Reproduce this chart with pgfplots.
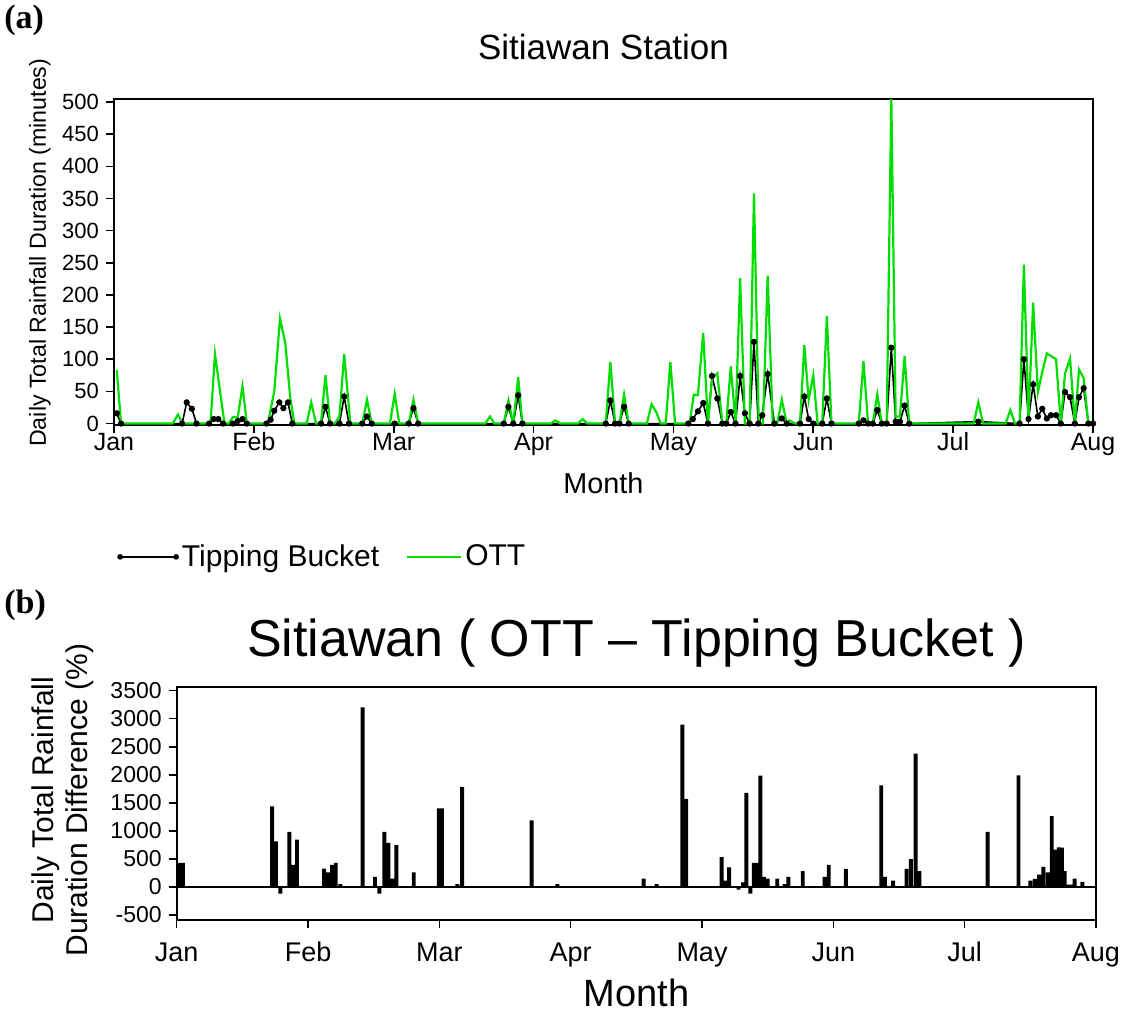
\documentclass[border=0pt]{standalone}
\usepackage{pgfplots}
\pgfplotsset{compat=1.18}
\usepackage{fontspec}
\setmainfont{Liberation Sans}
\newfontfamily\tnr{Liberation Serif}
\definecolor{ottgreen}{RGB}{0,221,0}
\newcommand\fs[2][1.15]{\fontsize{#2}{#1\dimexpr#2\relax}\selectfont}

% daily rainfall duration (minutes); x = month position (0 = 1 Jan, 7 = 1 Aug)
\pgfplotstableread{
x y
0.02 16
0.05 0
0.487 0
0.52 33
0.557 23
0.59 0
0.68 0
0.713 7
0.746 7
0.78 0
0.85 0
0.885 4
0.919 7
0.95 0
1.09 0
1.12 6
1.146 20
1.182 33
1.211 24
1.244 33
1.275 0
1.48 0
1.512 26
1.545 0
1.612 0
1.646 42
1.68 0
1.775 0
1.809 11
1.843 0
2.007 0
2.107 0
2.141 24
2.175 0
2.787 0
2.82 26
2.855 0
2.89 44
2.92 0
3.516 0
3.549 36
3.583 0
3.614 0
3.647 26
3.68 0
4.107 0
4.139 7
4.175 19
4.213 32
4.247 0
4.276 74
4.314 39
4.35 0
4.378 0
4.41 18
4.444 0
4.477 74
4.511 16
4.545 0
4.576 127
4.607 0
4.635 13
4.674 77
4.722 0
4.775 8
4.81 0
4.905 0
4.936 42
4.967 7
5.0 0
5.064 0
5.097 39
5.13 0
5.325 0
5.359 5
5.392 0
5.425 0
5.458 21
5.49 0
5.525 0
5.558 118
5.589 3
5.62 3
5.653 28
5.686 0
6.18 3
6.475 0
6.506 100
6.539 7
6.572 61
6.606 11
6.637 23
6.67 8
6.70 13
6.736 13
6.77 0
6.80 49
6.836 41
6.87 0
6.90 41
6.933 55
6.967 0
7.0 0
}\tbucket

\pgfplotstableread{
x y
0.02 83
0.05 0
0.42 0
0.457 14
0.49 0
0.69 0
0.722 108
0.79 0
0.82 0
0.85 10
0.885 10
0.919 58
0.95 0
1.10 0
1.146 50
1.187 163
1.225 125
1.26 40
1.29 0
1.378 0
1.41 33
1.445 0
1.48 0
1.512 75
1.545 0
1.578 0
1.612 11
1.646 108
1.69 0
1.775 0
1.809 37
1.843 0
1.973 0
2.007 46
2.04 0
2.107 0
2.141 37
2.175 0
2.655 0
2.688 11
2.72 0
2.787 0
2.82 36
2.855 0
2.89 72
2.92 0
3.123 0
3.156 5
3.19 0
3.317 0
3.35 7
3.383 0
3.516 0
3.549 96
3.583 0
3.614 0
3.647 45
3.68 0
3.81 0
3.844 30
3.877 18
3.91 0
3.945 0
3.978 96
4.012 0
4.115 0
4.146 45
4.175 44
4.213 141
4.247 0
4.276 70
4.314 78
4.35 0
4.378 0
4.41 89
4.444 0
4.477 226
4.511 0
4.545 0
4.576 358
4.61 0
4.64 0
4.674 230
4.71 0
4.742 0
4.775 37
4.81 0
4.829 5
4.87 0
4.905 0
4.936 122
4.967 37
5.0 75
5.031 0
5.064 0
5.097 167
5.13 0
5.325 0
5.359 97
5.392 0
5.425 0
5.458 45
5.49 0
5.525 0
5.558 507
5.589 11
5.62 11
5.653 105
5.686 0
6.147 0
6.18 33
6.214 0
6.375 0
6.409 21
6.442 0
6.475 0
6.506 247
6.539 8
6.572 188
6.606 49
6.637 80
6.67 109
6.70 105
6.736 100
6.77 0
6.80 78
6.836 101
6.87 0
6.90 84
6.933 71
6.967 0
7.0 0
}\ott

% daily difference (%), OTT minus tipping bucket
\pgfplotstableread{
x y
0.016 430
0.048 430
0.726 1438
0.756 814
0.789 -119
0.858 980
0.886 392
0.916 844
1.122 327
1.152 261
1.183 392
1.211 428
1.246 48
1.416 3203
1.510 178
1.543 -119
1.581 980
1.612 784
1.640 149
1.673 743
1.805 261
1.997 1402
2.020 1402
2.137 48
2.173 1782
2.702 1188
2.836 12
2.899 48
3.556 149
3.654 48
3.851 2894
3.879 1569
4.149 529
4.177 113
4.207 350
4.278 -48
4.313 83
4.338 1676
4.369 -119
4.394 428
4.414 428
4.444 1985
4.472 178
4.500 149
4.573 149
4.629 48
4.657 178
4.767 280
4.934 178
4.965 392
5.096 321
5.365 1812
5.392 178
5.456 113
5.557 321
5.590 497
5.627 2377
5.655 280
6.175 980
6.410 1990
6.501 113
6.534 143
6.567 220
6.600 356
6.633 261
6.663 1260
6.689 665
6.717 707
6.740 700
6.762 280
6.790 42
6.810 42
6.838 149
6.896 89
}\diff

\pgfplotsset{
  gradsaxis/.style={
    scale only axis, anchor=south west,
    xmin=0, xmax=7,
    xtick={0,1,...,7},
    xticklabels={Jan,Feb,Mar,Apr,May,Jun,Jul,Aug},
    tick align=outside, xtick pos=bottom, ytick pos=left,
    major tick length=4pt,
    axis line style={line width=1pt},
    tick style={black, line width=0.8pt},
    /pgf/number format/assume math mode=true,
    /pgf/number format/1000 sep={},
    clip=true,
  },
}

\begin{document}
\begin{tikzpicture}
\path[use as bounding box] (0,0) rectangle (568.5pt,509.5pt);

% panel (a): daily rainfall duration
\begin{axis}[gradsaxis,
  at={(57pt,296.75pt)}, width=489.5pt, height=163pt,
  ymin=-3, ymax=504, ytick={0,50,...,500},
  yticklabel style={font=\fs{11pt}},
  xticklabel style={font=\fs{12.5pt}, text height=9pt, text depth=0pt, inner sep=0pt, yshift=0.5pt},
  title={Sitiawan Station},
  title style={font=\fs{17.5pt}, at={(axis description cs:0.5,1.123)}, anchor=center},
  xlabel={Month},
  xlabel style={font=\fs{14.4pt}, at={(axis description cs:0.5,-0.178)}, anchor=center},
  ylabel={Daily Total Rainfall Duration (minutes)},
  ylabel style={font=\fs{11.6pt}, at={(axis description cs:-0.0756,0.53)}, rotate=0, anchor=center},
  legend columns=2,
  legend style={draw=none, fill=none, at={(axis description cs:0.003,-0.403)}, anchor=west,
    font=\fs{15pt}, inner sep=0pt, nodes={inner sep=1.5pt, anchor=west},
    /tikz/every even column/.append style={column sep=12pt}},
]
\addplot[black, line width=0.8pt, mark=*, mark size=1.15pt,
  legend image code/.code={
    \draw[black, line width=0.7pt] (0pt,0pt) -- (28pt,0pt);
    \fill[black] (0pt,0pt) circle (1pt) (28pt,0pt) circle (1pt);}]
  table[x=x, y=y] {\tbucket};
\addlegendentry{Tipping Bucket}
\addplot[ottgreen, line width=1.1pt,
  legend image code/.code={
    \draw[ottgreen, line width=1pt] (0pt,0pt) -- (27pt,0pt);}]
  table[x=x, y=y] {\ott};
\addlegendentry{OTT}
\end{axis}

% panel (b): percentage difference
\begin{axis}[gradsaxis,
  at={(88.35pt,49.5pt)}, width=459.65pt, height=116.65pt,
  ymin=-590, ymax=3570, ytick={-500,0,...,3500},
  yticklabel style={font=\fs{11.5pt}},
  xticklabel style={font=\fs{13.5pt}, text height=9.7pt, text depth=0pt, inner sep=0pt, yshift=-7pt},
  title={Sitiawan ( OTT -- Tipping Bucket )},
  title style={font=\fs{26pt}, at={(axis description cs:0.5,1.136)}, anchor=center},
  xlabel={Month},
  xlabel style={font=\fs{19pt}, at={(axis description cs:0.5,-0.313)}, anchor=center},
  ylabel={Daily Total Rainfall\\Duration Difference (\%)},
  ylabel style={font=\fs[1.14]{15pt}, align=center, at={(axis description cs:-0.1237,0.514)}, rotate=0, anchor=center},
]
\addplot[black, line width=0.9pt, forget plot] coordinates {(0,0) (7,0)};
\addplot[ybar, bar width=0.03, fill=black, draw=none] table[x=x, y=y] {\diff};
\end{axis}

\node[font=\tnr\bfseries\fs{17pt}, anchor=west, inner sep=0pt] at (2pt,499.5pt) {(a)};
\node[font=\tnr\bfseries\fs{17pt}, anchor=west, inner sep=0pt] at (2pt,207pt) {(b)};
\end{tikzpicture}
\end{document}
